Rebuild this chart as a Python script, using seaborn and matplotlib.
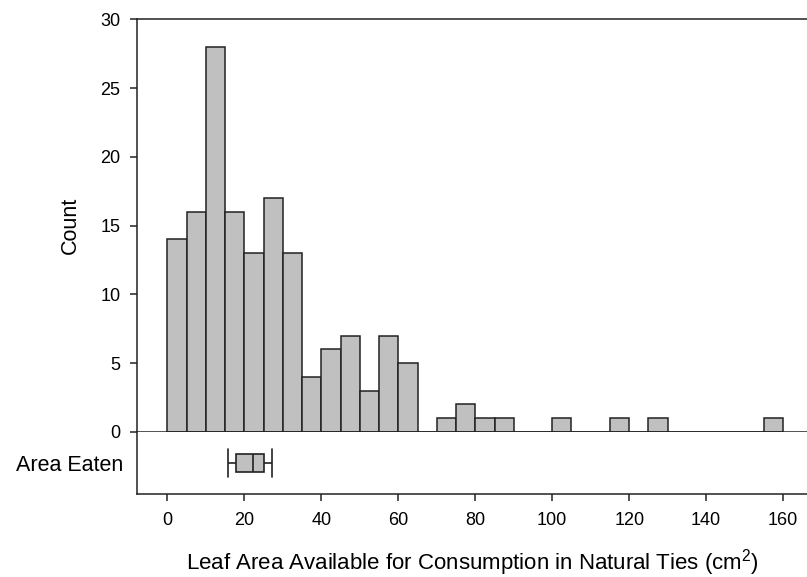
import matplotlib.pyplot as plt
import numpy as np
import pandas as pd
import seaborn as sns

# Histogram bins (left edge, width 5) and counts
bin_lefts = list(range(0, 160, 5))
counts = [14, 16, 28, 16, 13, 17, 13, 4, 6, 7, 3, 7, 5, 0, 1, 2,
          1, 1, 0, 0, 1, 0, 0, 1, 0, 1, 0, 0, 0, 0, 0, 1]

# Area eaten: five-number summary (min, Q1, median, Q3, max)
area_eaten = [15.7, 17.8, 22.2, 25.0, 27.1]
box_label = 'Area Eaten'

xticks = [0, 20, 40, 60, 80, 100, 120, 140, 160]
yticks = [0, 5, 10, 15, 20, 25, 30]

sns.set_style('ticks')
plt.rcParams['font.family'] = ['Liberation Sans', 'DejaVu Sans']
plt.rcParams['mathtext.fontset'] = 'custom'
plt.rcParams['mathtext.rm'] = 'Liberation Sans'
plt.rcParams['text.color'] = 'black'
plt.rcParams['axes.labelcolor'] = 'black'
plt.rcParams['xtick.color'] = 'black'
plt.rcParams['ytick.color'] = 'black'
plt.rcParams['axes.edgecolor'] = '#222222'
plt.rcParams['axes.linewidth'] = 1.1

df_hist = pd.DataFrame({'x': np.array(bin_lefts) + 2.5, 'n': counts})
df_box = pd.DataFrame({'value': area_eaten, 'group': box_label})

fig = plt.figure(figsize=(8.07, 5.77), dpi=100)
ax1 = fig.add_axes([0.1698, 0.2515, 0.8302, 0.7150])
ax2 = fig.add_axes([0.1698, 0.1440, 0.8302, 0.1075], sharex=ax1)

# Draw histogram
sns.histplot(data=df_hist, x='x', weights='n', binwidth=5, binrange=(0, 160),
             color='#c0c0c0', edgecolor='#222222', linewidth=1.1,
             alpha=1, ax=ax1)
ax1.set_ylim(0, 30)
ax1.set_yticks(yticks)
ax1.set_xlim(-7.9, 166.2)
ax1.set_ylabel('Count', fontsize=15.5, labelpad=14)
ax1.set_xlabel('')
ax1.spines['right'].set_visible(False)
ax1.tick_params(axis='x', bottom=False, labelbottom=False)
ax1.tick_params(axis='y', labelsize=13, length=5, width=1.1,
                color='#222222', pad=7)

# Draw box plot of area eaten
sns.boxplot(data=df_box, x='value', y='group', orient='h', whis=1.5,
            color='#c0c0c0', width=0.28, linecolor='#222222', linewidth=1.2,
            showfliers=False, capwidths=0.44, ax=ax2)
ax2.set_ylim(0.5, -0.5)
ax2.set_xticks(xticks)
ax2.set_xlim(-7.9, 166.2)
ax2.spines['top'].set_visible(False)
ax2.spines['right'].set_visible(False)
ax2.set_ylabel('')
ax2.set_xlabel('Leaf Area Available for Consumption in Natural Ties (cm$^2$)',
               fontsize=16, labelpad=13)
ax2.tick_params(axis='y', length=0, labelsize=15.5, pad=10)
ax2.tick_params(axis='x', labelsize=13, length=5, width=1.1,
                color='#222222', pad=8)

fig.savefig('out.png', dpi=100)
